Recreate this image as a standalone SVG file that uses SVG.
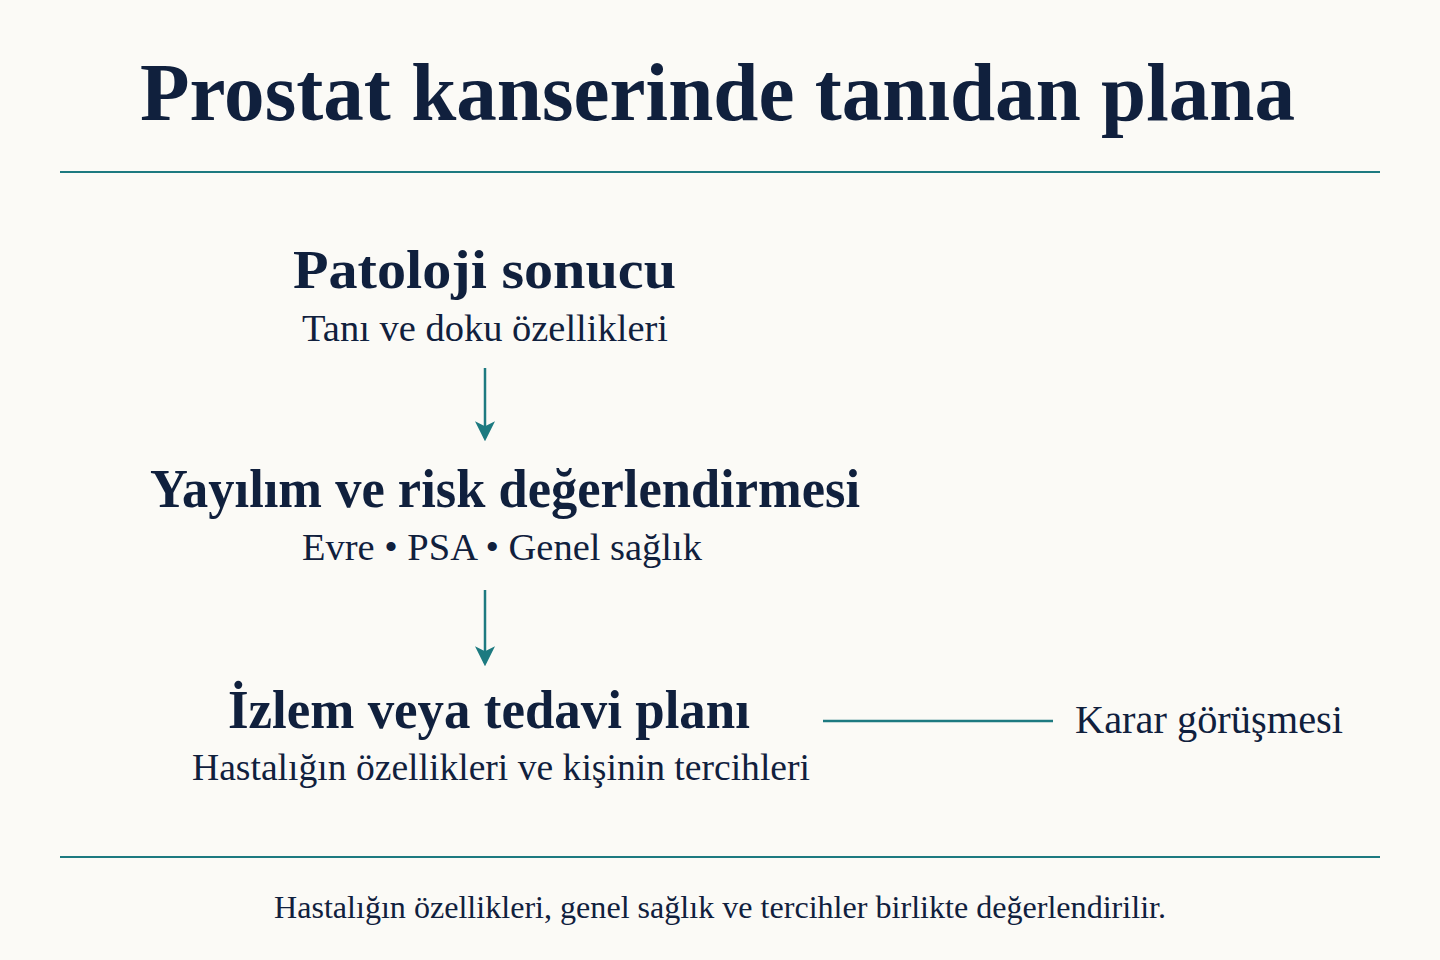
<svg xmlns="http://www.w3.org/2000/svg" width="1440" height="960" viewBox="0 0 1440 960">
<defs>
<style>
text{font-family:"Liberation Serif","Times New Roman",serif;fill:#10203d}
.title{font-size:82px;font-weight:bold}
.head{font-size:54px;font-weight:bold}
.sub{font-size:38px}
.side{font-size:39px}
.foot{font-size:31px}
.rule{stroke:#1d7a80;stroke-width:2;fill:none}
.conn{stroke:#1d7a80;stroke-width:2.5;fill:none}
</style>
<marker id="arr" viewBox="0 0 12 12" refX="10" refY="6" markerWidth="20" markerHeight="20" markerUnits="userSpaceOnUse" orient="auto">
<path d="M0,0 L12,6 L0,12 L3,6 Z" fill="#1d7a80"/>
</marker>
</defs>
<rect width="1440" height="960" fill="#fbfaf6"/>
<text class="title" x="140" y="120" textLength="1155" lengthAdjust="spacingAndGlyphs">Prostat kanserinde tanıdan plana</text>
<line class="rule" x1="60" y1="172" x2="1380" y2="172"/>
<g id="node-patoloji">
<text class="head" x="293" y="288" font-size="57" textLength="383" lengthAdjust="spacingAndGlyphs">Patoloji sonucu</text>
<text class="sub" x="302" y="341" textLength="366" lengthAdjust="spacingAndGlyphs">Tanı ve doku özellikleri</text>
</g>
<g id="node-yayilim">
<text class="head" x="150" y="507" textLength="710" lengthAdjust="spacingAndGlyphs">Yayılım ve risk değerlendirmesi</text>
<text class="sub" x="302" y="560" textLength="400" lengthAdjust="spacingAndGlyphs">Evre • PSA • Genel sağlık</text>
</g>
<g id="node-plan">
<text class="head" x="228" y="728" textLength="522" lengthAdjust="spacingAndGlyphs">İzlem veya tedavi planı</text>
<text class="sub" x="192" y="780" textLength="618" lengthAdjust="spacingAndGlyphs">Hastalığın özellikleri ve kişinin tercihleri</text>
</g>
<g id="node-karar">
<text class="side" x="1075" y="733" textLength="268" lengthAdjust="spacingAndGlyphs">Karar görüşmesi</text>
</g>
<g id="connectors">
<line class="conn" x1="485" y1="368" x2="485" y2="438" marker-end="url(#arr)"/>
<line class="conn" x1="485" y1="590" x2="485" y2="663" marker-end="url(#arr)"/>
<line class="conn" x1="823" y1="721" x2="1053" y2="721"/>
</g>
<line class="rule" x1="60" y1="857" x2="1380" y2="857"/>
<text class="foot" x="274" y="918" textLength="892" lengthAdjust="spacingAndGlyphs">Hastalığın özellikleri, genel sağlık ve tercihler birlikte değerlendirilir.</text>
</svg>
